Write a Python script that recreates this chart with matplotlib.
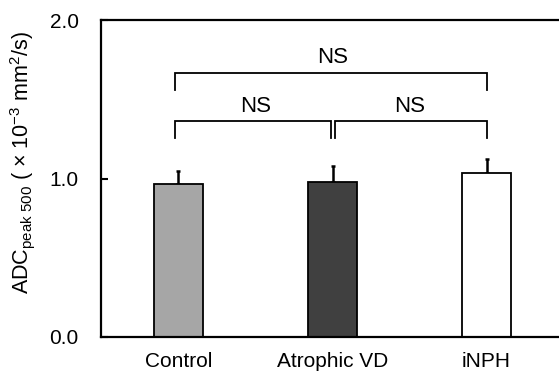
import numpy as np
import matplotlib
matplotlib.use("Agg")
import matplotlib.pyplot as plt

plt.rcParams["font.family"] = ["Liberation Sans", "DejaVu Sans"]
plt.rcParams["mathtext.fontset"] = "custom"
plt.rcParams["mathtext.rm"] = "Liberation Sans"
plt.rcParams["mathtext.it"] = "Liberation Sans"

# data
groups = ["Control", "Atrophic VD", "iNPH"]
means = [0.965, 0.975, 1.033]
sds = [0.082, 0.104, 0.090]
colors = ["#a6a6a6", "#404040", "#ffffff"]

# comparisons (i, j, bracket height, label)
pairs = [(0, 1, 1.36, "NS"), (1, 2, 1.36, "NS"), (0, 2, 1.665, "NS")]

fig = plt.figure(figsize=(5.59, 3.71), dpi=100)
ax = fig.add_axes([101 / 559, 34 / 371, 1 - 101 / 559, 317 / 371])

x = np.arange(len(groups))
ax.bar(x, means, width=0.32, color=colors, edgecolor="black", linewidth=1.3, zorder=2)
ax.errorbar(x, means, yerr=[np.zeros(3), sds], fmt="none", ecolor="black",
            elinewidth=1.8, capsize=1.5, capthick=1.8, zorder=1)

gap = 0.013
for i, j, h, lab in pairs:
    xi = x[i] - 0.02 if i == 0 else x[i] + gap
    xj = x[j] - gap if j == 1 else x[j]
    ax.plot([xi, xi, xj, xj], [h - 0.105, h, h, h - 0.105], color="black", lw=1.3,
            solid_joinstyle="miter", clip_on=False)
    ax.text((x[i] + x[j]) / 2, h + 0.03, lab, ha="center", va="bottom", fontsize=16)

ax.set_xlim(-0.503, 2.47)
ax.set_ylim(0, 2.0)
ax.set_yticks([0.0, 1.0, 2.0])
ax.set_yticklabels(["0.0", "1.0", "2.0"], fontsize=15)
ax.set_xticks(x)
ax.set_xticklabels(groups, fontsize=15)
ax.tick_params(axis="y", direction="in", length=5, width=1.5, pad=16)
ax.tick_params(axis="x", length=0, pad=11)
ax.spines["right"].set_visible(False)
for s in ["left", "top", "bottom"]:
    ax.spines[s].set_linewidth(1.6)

ax.set_ylabel(r"ADC$_{\mathrm{peak\ 500}}$ ( × 10$^{-3}$ mm$^{2}$/s)", fontsize=15.5)
ax.yaxis.set_label_coords(-0.14, 0.55)

fig.savefig("out.png", dpi=100)
